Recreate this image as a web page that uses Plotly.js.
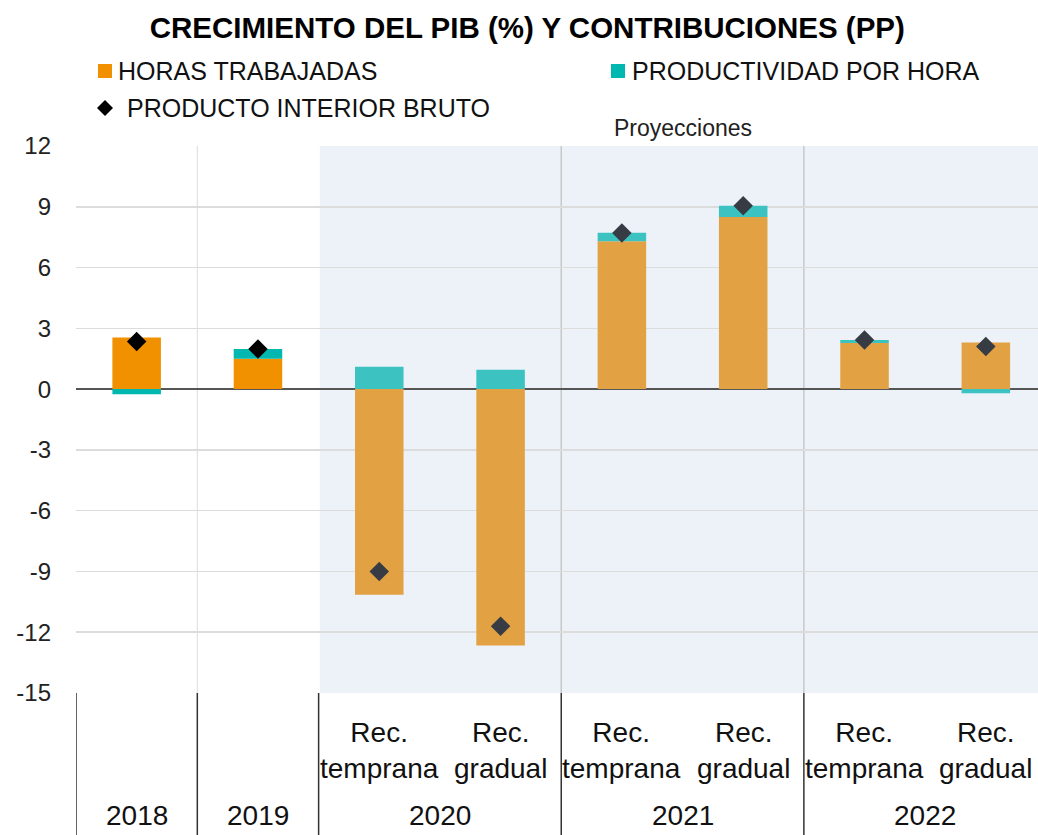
<!DOCTYPE html>
<html>
<head>
<meta charset="utf-8">
<script src="https://cdn.plot.ly/plotly-3.0.1.min.js"></script>
<style>html,body{margin:0;padding:0;background:#fff;}#chart{width:1038px;height:835px;}</style>
</head>
<body>
<div id="chart"></div>
<script>
// ---- data ----
var categories = ["2018", "2019", "2020 temprana", "2020 gradual", "2021 temprana", "2021 gradual", "2022 temprana", "2022 gradual"];
var subLabels = ["", "", "Rec.<br>temprana", "Rec.<br>gradual", "Rec.<br>temprana", "Rec.<br>gradual", "Rec.<br>temprana", "Rec.<br>gradual"];
var yearLabels = ["2018", "2019", "2020", "2021", "2022"];
var yearCenters = [0, 1, 2.5, 4.5, 6.5];
var horasTrabajadas = [2.55, 1.5, -10.15, -12.65, 7.3, 8.5, 2.27, 2.3];
var productividadHora = [-0.25, 0.48, 1.1, 0.95, 0.42, 0.55, 0.15, -0.2];
var pib = [2.35, 1.98, -9.0, -11.7, 7.7, 9.05, 2.42, 2.1];
var isProjection = [false, false, true, true, true, true, true, true];
var yTicks = [12, 9, 6, 3, 0, -3, -6, -9, -12, -15];

var colOrangeA = "#f29100", colOrangeP = "#e2a243";
var colTealA = "#00b8b0", colTealP = "#3cc2c0";
var colDiaA = "#000000", colDiaP = "#373c44";

var FONT = "Liberation Sans, Arial, Helvetica, sans-serif";

var traces = [
  {type: "bar", x: categories, y: horasTrabajadas, width: 0.4, name: "HORAS TRABAJADAS",
   marker: {color: isProjection.map(function(p){return p ? colOrangeP : colOrangeA;})},
   showlegend: false, hoverinfo: "y"},
  {type: "bar", x: categories, y: productividadHora, width: 0.4, name: "PRODUCTIVIDAD POR HORA",
   marker: {color: isProjection.map(function(p){return p ? colTealP : colTealA;})},
   showlegend: false, hoverinfo: "y"},
  {type: "scatter", mode: "markers", x: categories, y: pib, name: "PRODUCTO INTERIOR BRUTO",
   marker: {symbol: "diamond", size: 15, color: isProjection.map(function(p){return p ? colDiaP : colDiaA;})},
   showlegend: false, hoverinfo: "y"}
];

// plot geometry helpers (pixel -> paper)
var L = 76, T = 146, W = 962, H = 547;
function px(x){ return (x - L) / W; }
function py(y){ return (T + H - y) / H; }

var shapes = [];
// projection shading
shapes.push({type: "rect", xref: "x", yref: "paper", x0: 1.51, x1: 7.6, y0: 0, y1: 1,
  fillcolor: "#edf1f8", line: {width: 0}, layer: "below"});
// vertical separators inside plot
shapes.push({type: "line", xref: "x", yref: "paper", x0: 0.5, x1: 0.5, y0: 0, y1: 1,
  line: {color: "#dcdcdc", width: 1}, layer: "below"});
[3.5, 5.5].forEach(function(v){
  shapes.push({type: "line", xref: "x", yref: "paper", x0: v, x1: v, y0: 0, y1: 1,
    line: {color: "#c8c8c8", width: 1.5}, layer: "below"});
});
// separators below axis
[-0.5, 0.5, 1.5, 3.5, 5.5].forEach(function(v){
  shapes.push({type: "line", xref: "x", yref: "paper", x0: v, x1: v, y0: 0, y1: -0.27,
    line: {color: "#333333", width: 1.5}});
});
// legend squares
shapes.push({type: "rect", xref: "paper", yref: "paper", x0: px(98), x1: px(112), y0: py(78), y1: py(64),
  fillcolor: colOrangeA, line: {width: 0}});
shapes.push({type: "rect", xref: "paper", yref: "paper", x0: px(611), x1: px(625), y0: py(78), y1: py(64),
  fillcolor: colTealA, line: {width: 0}});
// legend diamond
var dcx = 105, dcy = 108, dr = 8;
shapes.push({type: "path", xref: "paper", yref: "paper",
  path: "M " + px(dcx - dr) + "," + py(dcy) + " L " + px(dcx) + "," + py(dcy - dr) + " L " + px(dcx + dr) + "," + py(dcy) + " L " + px(dcx) + "," + py(dcy + dr) + " Z",
  fillcolor: "#000000", line: {width: 0}});

var annotations = [];
function ann(o){ o.showarrow = false; annotations.push(o); }
ann({xref: "paper", yref: "paper", x: px(116), y: py(71), xanchor: "left", yanchor: "middle",
  text: "HORAS TRABAJADAS", font: {family: FONT, size: 25, color: "#111"}});
ann({xref: "paper", yref: "paper", x: px(630), y: py(71), xanchor: "left", yanchor: "middle",
  text: "PRODUCTIVIDAD POR HORA", font: {family: FONT, size: 25, color: "#111"}});
ann({xref: "paper", yref: "paper", x: px(125), y: py(108), xanchor: "left", yanchor: "middle",
  text: "PRODUCTO INTERIOR BRUTO", font: {family: FONT, size: 25, color: "#111"}});
ann({xref: "x", yref: "paper", x: 4.5, y: py(128), xanchor: "center", yanchor: "middle",
  text: "Proyecciones", font: {family: FONT, size: 23, color: "#222"}});
subLabels.forEach(function(t, i){
  if (!t) return;
  ann({xref: "x", yref: "paper", x: i, y: py(750), xanchor: "center", yanchor: "middle",
    text: t, font: {family: FONT, size: 28, color: "#111"}});
});
yearLabels.forEach(function(t, i){
  ann({xref: "x", yref: "paper", x: yearCenters[i], y: py(815), xanchor: "center", yanchor: "middle",
    text: t, font: {family: FONT, size: 28, color: "#111"}});
});

var layout = {
  width: 1038, height: 835,
  margin: {l: L, r: 0, t: T, b: 835 - T - H, pad: 0},
  paper_bgcolor: "#ffffff", plot_bgcolor: "rgba(0,0,0,0)",
  barmode: "relative",
  showlegend: false,
  title: {text: "<b>CRECIMIENTO DEL PIB (%) Y CONTRIBUCIONES (PP)</b>", x: 0.508, xanchor: "center",
    y: 1 - 28/835, yanchor: "middle", font: {family: FONT, size: 29.5, color: "#000"}},
  xaxis: {type: "category", range: [-0.5, 7.43], showticklabels: false, showgrid: false,
    zeroline: false, showline: false, ticks: "", fixedrange: true},
  yaxis: {range: [-15, 12], tickvals: yTicks, ticktext: yTicks.map(String), showgrid: true,
    gridcolor: "#dcdcdc", gridwidth: 1.5, zeroline: true, zerolinecolor: "#555555", zerolinewidth: 1.5,
    showline: false, ticks: "", ticklabelstandoff: 24,
    tickfont: {family: FONT, size: 24, color: "#222"}, fixedrange: true},
  shapes: shapes,
  annotations: annotations
};

Plotly.newPlot("chart", traces, layout, {displayModeBar: false, staticPlot: true});
</script>
</body>
</html>
